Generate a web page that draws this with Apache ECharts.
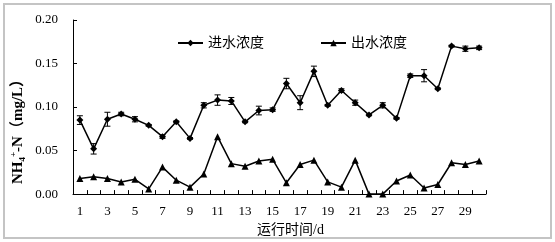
<!DOCTYPE html>
<html>
<head>
<meta charset="utf-8">
<script src="https://cdn.jsdelivr.net/npm/echarts@6/dist/echarts.min.js"></script>
<style>
  html, body { margin: 0; padding: 0; background: #fff; }
  #main { position: absolute; left: 0; top: 0; width: 555px; height: 242px; }
  .frame { position: absolute; left: 3px; top: 3px; width: 545px; height: 232px; border: 2px solid #c4c4c4; pointer-events: none; }
</style>
</head>
<body>
<div id="main"></div>
<div class="frame"></div>
<script>
// 运行天数
var days = []
for (var d = 1; d <= 30; d++) days.push(String(d))

// 进水浓度 (mg/L)
var inflow = [0.085, 0.052, 0.086, 0.092, 0.086, 0.079, 0.066, 0.083, 0.064, 0.102,
  0.108, 0.107, 0.083, 0.096, 0.097, 0.127, 0.105, 0.141, 0.102, 0.119,
  0.105, 0.091, 0.102, 0.087, 0.136, 0.136, 0.121, 0.170, 0.167, 0.168]
var inflowErr = [0.005, 0.006, 0.008, 0.002, 0.003, 0.001, 0.002, 0.001, 0.001, 0.003,
  0.006, 0.004, 0.001, 0.005, 0.002, 0.006, 0.008, 0.006, 0.001, 0.002,
  0.003, 0.001, 0.003, 0.001, 0.002, 0.007, 0.001, 0.001, 0.003, 0.002]

// 出水浓度 (mg/L)
var outflow = [0.018, 0.020, 0.018, 0.014, 0.017, 0.006, 0.031, 0.016, 0.008, 0.023,
  0.066, 0.035, 0.032, 0.038, 0.040, 0.013, 0.034, 0.039, 0.014, 0.008,
  0.039, 0.000, 0.000, 0.015, 0.022, 0.007, 0.011, 0.036, 0.034, 0.038]

var yTicks = [0, 0.05, 0.10, 0.15, 0.20]

var serif = '"Liberation Serif", "Noto Sans CJK SC", serif'

// 误差线
function errBars (vals, errs) {
  return vals.map(function (v, i) { return [i, v - errs[i], v + errs[i]] })
}
function renderErr (params, api) {
  var x = api.value(0)
  var lo = api.coord([x, api.value(1)])
  var hi = api.coord([x, api.value(2)])
  var w = 3
  var st = { stroke: '#000', lineWidth: 1 }
  return {
    type: 'group',
    children: [
      { type: 'line', shape: { x1: lo[0], y1: lo[1], x2: hi[0], y2: hi[1] }, style: st },
      { type: 'line', shape: { x1: lo[0] - w, y1: lo[1], x2: lo[0] + w, y2: lo[1] }, style: st },
      { type: 'line', shape: { x1: hi[0] - w, y1: hi[1], x2: hi[0] + w, y2: hi[1] }, style: st }
    ]
  }
}

var myChart = echarts.init(document.getElementById('main'))
myChart.setOption({
  animation: false,
  backgroundColor: '#fff',
  grid: { left: 73, right: 69, top: 20, bottom: 45 },
  legend: {
    left: 172,
    top: 31,
    itemGap: 56,
    itemWidth: 25,
    itemHeight: 8,
    textStyle: { fontFamily: serif, fontSize: 14, color: '#000' },
    data: ['进水浓度', '出水浓度']
  },
  xAxis: {
    type: 'category',
    data: days,
    boundaryGap: true,
    name: '运行时间/d',
    nameLocation: 'middle',
    nameGap: 28,
    nameTextStyle: { fontFamily: serif, fontSize: 14, color: '#000', padding: [0, 0, 0, 22] },
    axisLine: { lineStyle: { color: '#000', width: 1 } },
    axisTick: { show: true, inside: true, length: 4, interval: 0, lineStyle: { color: '#000' } },
    axisLabel: { interval: 1, margin: 11, fontFamily: serif, fontSize: 13, color: '#000' }
  },
  yAxis: {
    type: 'value',
    min: yTicks[0],
    max: yTicks[yTicks.length - 1],
    interval: 0.05,
    axisLine: { show: true, lineStyle: { color: '#000', width: 1 } },
    axisTick: { show: true, inside: true, length: 4, lineStyle: { color: '#000' } },
    splitLine: { show: false },
    axisLabel: {
      margin: 15,
      fontFamily: serif,
      fontSize: 13,
      color: '#000',
      formatter: function (v) { return v.toFixed(2) }
    }
  },
  graphic: [
    {
      type: 'text',
      x: 18,
      y: 128,
      rotation: Math.PI / 2,
      style: {
        text: '{b|NH}{sub|4}{sup|+}{b|-N（mg/L）}',
        align: 'center',
        verticalAlign: 'middle',
        fill: '#000',
        rich: {
          b: { fontFamily: serif, fontSize: 15, fontWeight: 'bold', fill: '#000', lineHeight: 18 },
          sub: { fontFamily: serif, fontSize: 9, fontWeight: 'bold', fill: '#000', verticalAlign: 'bottom', lineHeight: 18 },
          sup: { fontFamily: serif, fontSize: 9, fontWeight: 'bold', fill: '#000', verticalAlign: 'top', lineHeight: 18 }
        }
      }
    }
  ],
  series: [
    {
      name: '进水浓度',
      type: 'line',
      data: inflow,
      symbol: 'diamond',
      symbolSize: 7,
      itemStyle: { color: '#000' },
      lineStyle: { color: '#000', width: 1.5 },
      z: 3
    },
    {
      name: '出水浓度',
      type: 'line',
      data: outflow,
      symbol: 'triangle',
      symbolSize: 7,
      itemStyle: { color: '#000' },
      lineStyle: { color: '#000', width: 1.5 },
      z: 3
    },
    {
      type: 'custom',
      data: errBars(inflow, inflowErr),
      renderItem: renderErr,
      encode: { x: 0, y: [1, 2] },
      z: 2
    }
  ]
})
</script>
</body>
</html>
